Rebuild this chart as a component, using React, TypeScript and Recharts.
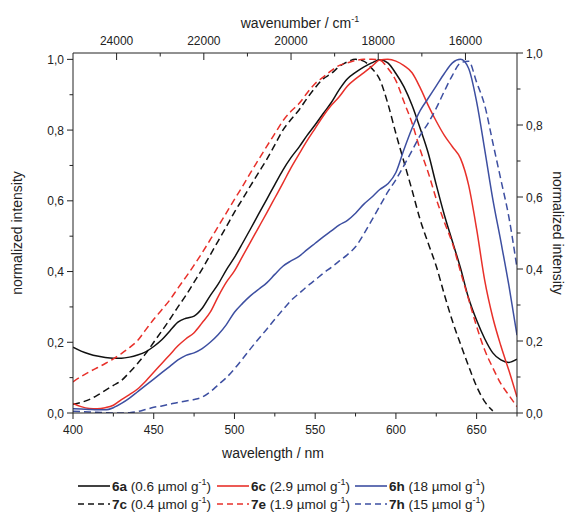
import React from 'react';
import { LineChart, Line, XAxis, YAxis } from 'recharts';

const wavelength = [
  400, 405, 410, 415, 420, 425, 430, 435, 440, 445, 450,
  455, 460, 465, 470, 475, 480, 485, 490, 495, 500,
  505, 510, 515, 520, 525, 530, 535, 540, 545, 550,
  555, 560, 565, 570, 575, 580, 585, 590, 595, 600,
  605, 610, 615, 620, 625, 630, 635, 640, 645, 650,
  655, 660, 665, 670, 675,
];

const s6a = [
  0.186, 0.175, 0.167, 0.161, 0.157, 0.155, 0.155, 0.158, 0.164, 0.173, 0.188,
  0.207, 0.232, 0.257, 0.268, 0.274, 0.296, 0.332, 0.365, 0.405, 0.44,
  0.48, 0.521, 0.563, 0.604, 0.646, 0.687, 0.722, 0.752, 0.785, 0.815,
  0.847, 0.878, 0.915, 0.945, 0.963, 0.978, 0.99, 0.999, 0.99, 0.96,
  0.922, 0.87, 0.805, 0.735, 0.645, 0.56, 0.485, 0.41, 0.325, 0.262,
  0.21, 0.17, 0.15, 0.143, 0.152,
];

const s7c = [
  0.025, 0.03, 0.038, 0.05, 0.064, 0.078, 0.092, 0.115, 0.14, 0.168, 0.2,
  0.232, 0.265, 0.3, 0.333, 0.37, 0.407, 0.447, 0.487, 0.527, 0.568,
  0.605, 0.643, 0.68, 0.717, 0.758, 0.8, 0.83, 0.857, 0.89, 0.92,
  0.945, 0.96, 0.98, 0.993, 1.0, 0.995, 0.975, 0.943, 0.875, 0.79,
  0.71, 0.63, 0.547, 0.48, 0.415, 0.335, 0.26, 0.195, 0.133, 0.075,
  0.032, 0.006, null, null, null,
];

const s6c = [
  0.027, 0.018, 0.013, 0.012, 0.015, 0.022, 0.038, 0.052, 0.068, 0.09, 0.115,
  0.14, 0.165, 0.19, 0.21, 0.227, 0.255, 0.285, 0.33, 0.37, 0.402,
  0.443, 0.484, 0.525, 0.566, 0.608, 0.65, 0.693, 0.732, 0.77, 0.805,
  0.84, 0.87, 0.895, 0.925, 0.945, 0.962, 0.98, 0.998, 1.0, 0.995,
  0.982, 0.962, 0.92, 0.87, 0.825, 0.785, 0.753, 0.72, 0.645, 0.52,
  0.375, 0.27, 0.19, 0.12, 0.045,
];

const s7e = [
  0.088, 0.103, 0.116, 0.128, 0.14, 0.153, 0.168, 0.185, 0.205, 0.235, 0.265,
  0.292, 0.32, 0.353, 0.385, 0.418, 0.453, 0.49, 0.528, 0.566, 0.604,
  0.641, 0.68, 0.717, 0.754, 0.79, 0.826, 0.853, 0.875, 0.905, 0.932,
  0.95, 0.968, 0.983, 0.99, 0.997, 1.0, 1.0, 0.998, 0.975, 0.94,
  0.88, 0.82, 0.745, 0.68, 0.605, 0.54, 0.48, 0.4, 0.322, 0.245,
  0.178, 0.128, 0.083, 0.05, 0.018,
];

const s6h = [
  0.012, 0.011, 0.01, 0.009, 0.009, 0.015, 0.027, 0.042, 0.06, 0.078, 0.096,
  0.114, 0.132, 0.15, 0.163, 0.17, 0.182, 0.2, 0.222, 0.25, 0.285,
  0.31, 0.332, 0.35, 0.368, 0.392, 0.415, 0.43, 0.443, 0.462, 0.48,
  0.498, 0.515, 0.532, 0.545, 0.565, 0.59, 0.61, 0.632, 0.648, 0.68,
  0.745, 0.805, 0.855, 0.89, 0.925, 0.96, 0.99, 1.0, 0.975, 0.88,
  0.745, 0.605, 0.485, 0.36, 0.22,
];

const s7h = [
  0.005, 0.004, 0.003, 0.002, 0.001, 0.0, 0.0, 0.001, 0.004, 0.01, 0.016,
  0.02, 0.025, 0.03, 0.034, 0.038, 0.045, 0.06, 0.08, 0.1, 0.125,
  0.153, 0.182, 0.21, 0.237, 0.265, 0.292, 0.318, 0.338, 0.358, 0.376,
  0.395, 0.412, 0.43, 0.448, 0.47, 0.505, 0.545, 0.585, 0.625, 0.66,
  0.7, 0.742, 0.785, 0.82, 0.862, 0.91, 0.955, 0.99, 0.995, 0.935,
  0.87, 0.765, 0.66, 0.553, 0.41,
];

const seriesKeys = ['a6', 'c7', 'c6', 'e7', 'h6', 'h7'];
const seriesValues = [s6a, s7c, s6c, s7e, s6h, s7h];
const seriesColors = ['#111111', '#111111', '#e8302a', '#e8302a', '#3d4fa1', '#3d4fa1'];
const seriesDashed = [false, true, false, true, false, true];
const seriesNames = ['6a', '7c', '6c', '7e', '6h', '7h'];
const seriesConc = ['0.6', '0.4', '2.9', '1.9', '18', '15'];

const wavelengthTicks = [400, 425, 450, 475, 500, 525, 550, 575, 600, 625, 650, 675];
const wavenumberTicks = [24000, 23000, 22000, 21000, 20000, 19000, 18000, 17000, 16000];
// the top (wavenumber) scale of the figure is linear, spanning 25000 -> 14818 cm-1 across the plot
const wavenumberRange = [25000, 14818];
const intensityTicks = [0, 0.1, 0.2, 0.3, 0.4, 0.5, 0.6, 0.7, 0.8, 0.9, 1.0];

const W0 = wavelength[0];
const W1 = wavelength[wavelength.length - 1];
const nuToPos = (nu: number) =>
  W0 + ((wavenumberRange[0] - nu) / (wavenumberRange[0] - wavenumberRange[1])) * (W1 - W0);
const posToNu = (p: number) =>
  Math.round((wavenumberRange[0] - ((p - W0) / (W1 - W0)) * (wavenumberRange[0] - wavenumberRange[1])) / 1000) * 1000;
const topTickPositions = wavenumberTicks.map(nuToPos);

const data = wavelength.map((w, i) => {
  const row: Record<string, number | null> = { w };
  seriesKeys.forEach((k, j) => {
    row[k] = seriesValues[j][i];
  });
  return row;
});

const FONT = '"Liberation Sans", Arial, Helvetica, sans-serif';
const AX = '#222';

const fmt = (v: number) => v.toFixed(1).replace('.', ',');

const BottomTick = (props: any) => {
  const { x, y, payload } = props;
  const major = payload.value % 50 === 0;
  return (
    <g>
      <line x1={x} x2={x} y1={y} y2={y + (major ? 6 : 3.5)} stroke={AX} strokeWidth={1} />
      {major && (
        <text x={x} y={y + 21} textAnchor="middle" fontSize={12} fontFamily={FONT} fill="#222">
          {payload.value}
        </text>
      )}
    </g>
  );
};

const TopTick = (props: any) => {
  const { x, y, payload } = props;
  const nu = posToNu(payload.value);
  const major = nu % 2000 === 0;
  return (
    <g>
      <line x1={x} x2={x} y1={y} y2={y + (major ? 7 : 3.5)} stroke={AX} strokeWidth={1} />
      {major && (
        <text x={x} y={y - 8} textAnchor="middle" fontSize={12} fontFamily={FONT} fill="#222">
          {nu}
        </text>
      )}
    </g>
  );
};

const LeftTick = (props: any) => {
  const { x, y, payload } = props;
  const major = Math.round(payload.value * 10) % 2 === 0;
  return (
    <g>
      <line x1={x} x2={x - (major ? 6 : 3.5)} y1={y} y2={y} stroke={AX} strokeWidth={1} />
      {major && (
        <text x={x - 9} y={y + 4.5} textAnchor="end" fontSize={12} fontFamily={FONT} fill="#222">
          {fmt(payload.value)}
        </text>
      )}
    </g>
  );
};

const RightTick = (props: any) => {
  const { x, y, payload } = props;
  const major = Math.round(payload.value * 10) % 2 === 0;
  return (
    <g>
      <line x1={x} x2={x + (major ? 6 : 3.5)} y1={y} y2={y} stroke={AX} strokeWidth={1} />
      {major && (
        <text x={x + 9} y={y + 4.5} textAnchor="start" fontSize={12} fontFamily={FONT} fill="#222">
          {fmt(payload.value)}
        </text>
      )}
    </g>
  );
};

const legendCols = [78, 217, 355];
const legendRows = [486, 504];

const Overlay = () => (
  <svg
    width={565}
    height={515}
    style={{ position: 'absolute', left: 0, top: 0, pointerEvents: 'none' }}
  >
    <text x={300} y={28} textAnchor="middle" fontSize={14} fontFamily={FONT} fill="#222">
      wavenumber / cm<tspan dy={-6} fontSize={9}>-1</tspan>
    </text>
    <text x={273} y={458} textAnchor="middle" fontSize={14} fontFamily={FONT} fill="#222">
      wavelength / nm
    </text>
    <text
      x={0}
      y={0}
      transform="translate(22,233) rotate(-90)"
      textAnchor="middle"
      fontSize={14}
      fontFamily={FONT}
      fill="#222"
    >
      normalized intensity
    </text>
    <text
      x={0}
      y={0}
      transform="translate(553,233) rotate(90)"
      textAnchor="middle"
      fontSize={14}
      fontFamily={FONT}
      fill="#222"
    >
      normalized intensity
    </text>
    {seriesNames.map((name, i) => {
      const col = Math.floor(i / 2);
      const row = i % 2;
      const x = legendCols[col];
      const y = legendRows[row];
      return (
        <g key={name}>
          <line
            x1={x}
            x2={x + 32}
            y1={y}
            y2={y}
            stroke={seriesColors[i]}
            strokeWidth={1.6}
            strokeDasharray={seriesDashed[i] ? '6 4' : undefined}
          />
          <text x={x + 34} y={y + 5} fontSize={13.5} fontFamily={FONT} fill="#222">
            <tspan fontWeight="bold">{name}</tspan>
            {` (${seriesConc[i]} \u00b5mol g`}
            <tspan dy={-6} fontSize={9}>-1</tspan>
            <tspan dy={6}>)</tspan>
          </text>
        </g>
      );
    })}
  </svg>
);

export default function App() {
  return (
    <div style={{ position: 'absolute', left: 0, top: 0, width: 565, height: 515, background: '#fff' }}>
      <LineChart
        width={565}
        height={515}
        data={data}
        margin={{ top: 0, right: 0, bottom: 0, left: 0 }}
      >
        <XAxis
          xAxisId="b"
          dataKey="w"
          type="number"
          domain={[W0, W1]}
          ticks={wavelengthTicks}
          interval={0}
          height={102}
          tickSize={0}
          tickMargin={0}
          tickLine={false}
          tick={<BottomTick />}
          axisLine={{ stroke: AX, strokeWidth: 1 }}
          allowDataOverflow
        />
        <XAxis
          xAxisId="t"
          dataKey="w"
          orientation="top"
          type="number"
          domain={[W0, W1]}
          ticks={topTickPositions}
          interval={0}
          height={53}
          tickSize={0}
          tickMargin={0}
          tickLine={false}
          tick={<TopTick />}
          axisLine={{ stroke: AX, strokeWidth: 1 }}
          allowDataOverflow
        />
        <YAxis
          yAxisId="l"
          type="number"
          domain={[0, 1.018]}
          ticks={intensityTicks}
          interval={0}
          width={73}
          tickSize={0}
          tickMargin={0}
          tickLine={false}
          tick={<LeftTick />}
          axisLine={{ stroke: AX, strokeWidth: 1 }}
          allowDataOverflow
        />
        <YAxis
          yAxisId="r"
          orientation="right"
          type="number"
          domain={[0, 1]}
          ticks={intensityTicks}
          interval={0}
          width={48}
          tickSize={0}
          tickMargin={0}
          tickLine={false}
          tick={<RightTick />}
          axisLine={{ stroke: AX, strokeWidth: 1 }}
          allowDataOverflow
        />
        <Line
          xAxisId="t"
          yAxisId="r"
          dataKey="none"
          stroke="none"
          dot={false}
          activeDot={false}
          isAnimationActive={false}
          legendType="none"
        />
        {seriesKeys.map((k, i) => (
          <Line
            key={k}
            xAxisId="b"
            yAxisId="l"
            dataKey={k}
            type="monotone"
            stroke={seriesColors[i]}
            strokeWidth={1.5}
            strokeDasharray={seriesDashed[i] ? '7 4' : undefined}
            dot={false}
            activeDot={false}
            isAnimationActive={false}
            connectNulls={false}
          />
        ))}
      </LineChart>
      <Overlay />
    </div>
  );
}
